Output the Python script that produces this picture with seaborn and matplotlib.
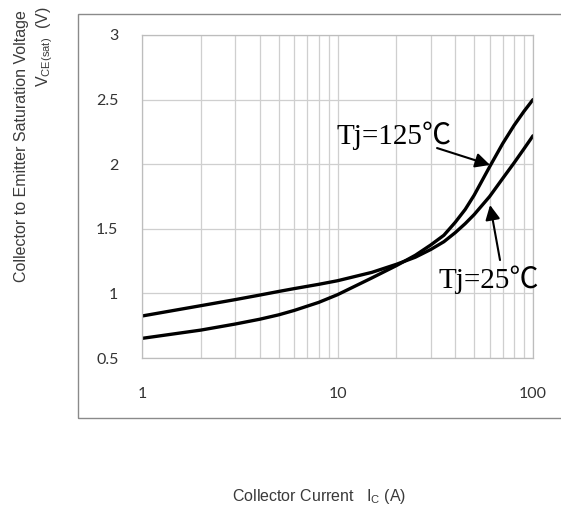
import numpy as np
import pandas as pd
import matplotlib
matplotlib.use("Agg")
import matplotlib.pyplot as plt
import matplotlib.ticker as mticker
from matplotlib.patches import Rectangle
import seaborn as sns

# ---- data ----
ic_25 = [1, 2, 3, 4, 5, 6, 8, 10, 15, 20, 25, 30, 35, 40, 45, 50, 60, 70, 80, 90, 100]
v_25 = [0.825, 0.905, 0.952, 0.987, 1.015, 1.037, 1.07, 1.098, 1.163, 1.225,
        1.28, 1.34, 1.40, 1.47, 1.54, 1.61, 1.75, 1.89, 2.01, 2.12, 2.22]
ic_125 = [1, 2, 3, 4, 5, 6, 8, 10, 15, 20, 25, 30, 35, 40, 45, 50, 60, 70, 80, 90, 100]
v_125 = [0.652, 0.716, 0.763, 0.80, 0.834, 0.868, 0.93, 0.99, 1.12, 1.215,
         1.295, 1.375, 1.45, 1.55, 1.65, 1.76, 1.98, 2.16, 2.30, 2.41, 2.50]
series_names = ["Tj=25℃", "Tj=125℃"]
y_ticks = [0.5, 1, 1.5, 2, 2.5, 3]
y_tick_labels = ["0.5", "1", "1.5", "2", "2.5", "3"]
x_ticks = [1, 10, 100]
x_tick_labels = ["1", "10", "100"]

df = pd.DataFrame({
    "Ic": ic_25 + ic_125,
    "V": v_25 + v_125,
    "Tj": [series_names[0]] * len(ic_25) + [series_names[1]] * len(ic_125),
})

sns.set_style("white")
plt.rcParams["font.family"] = ["Liberation Sans", "DejaVu Sans"]

W, H = 561, 519
fig = plt.figure(figsize=(W / 100, H / 100), dpi=100)

# outer gray frame (extends beyond right edge)
frame = Rectangle((78 / W, (H - 418) / H), 1.2, (418 - 14) / H,
                  transform=fig.transFigure, fill=False,
                  edgecolor="#8a8a8a", lw=1.0, zorder=0)
fig.patches.append(frame)

ax = fig.add_axes([142 / W, (H - 358) / H, (533 - 142) / W, (358 - 35) / H])
ax.set_facecolor("none")

sns.lineplot(data=df, x="Ic", y="V", hue="Tj", palette=["black", "black"],
             linewidth=2.4, legend=False, ax=ax, estimator=None, sort=True)

ax.set_xscale("log")
ax.set_xlim(1, 100)
ax.set_ylim(0.5, 3)
ax.set_xticks(x_ticks)
ax.set_xticklabels(x_tick_labels)
ax.xaxis.set_minor_locator(mticker.LogLocator(base=10, subs=np.arange(2, 10)))
ax.xaxis.set_minor_formatter(mticker.NullFormatter())
ax.set_yticks(y_ticks)
ax.set_yticklabels(y_tick_labels)

ax.grid(True, which="both", color="#cfcfcf", lw=0.9)
ax.set_axisbelow(True)
for s in ax.spines.values():
    s.set_color("#bdbdbd")
    s.set_linewidth(0.9)

ax.tick_params(axis="y", which="major", direction="out", length=6, width=0.9,
               color="#bdbdbd", pad=11, labelcolor="#333333")
ax.tick_params(axis="x", which="both", direction="out", length=5, width=0.9,
               color="#cfcfcf", pad=16, labelcolor="#333333")
for lab in ax.get_xticklabels() + ax.get_yticklabels():
    lab.set_fontfamily(["Lato", "DejaVu Sans"])
    lab.set_fontsize(11.5)
ax.set_xlabel("")
ax.set_ylabel("")

# axis titles
fig.text(22 / W, (H - 10) / H, "Collector to Emitter Saturation Voltage",
         rotation=90, ha="center", va="top", fontsize=11.5, color="#3a3a3a")
fig.text(45 / W, (H - 7) / H, r"V$_\mathregular{CE(sat)}$  (V)",
         rotation=90, ha="center", va="top", fontsize=11.5, color="#3a3a3a")
fig.text(319 / W, (H - 497) / H, r"Collector Current   I$_\mathregular{C}$ (A)",
         ha="center", va="center", fontsize=11.5, color="#3a3a3a")

# annotations
serif = ["Liberation Serif", "Noto Sans CJK JP", "DejaVu Serif"]
ax.text(19.5, 2.218, series_names[1], ha="center", va="center",
        fontsize=21, family=serif, color="black")
ax.annotate("", xy=(60.3, 1.994), xytext=(32.3, 2.125),
            arrowprops=dict(arrowstyle="-|>", mutation_scale=22, lw=1.5,
                            color="black", shrinkA=0, shrinkB=0))
ax.text(59.6, 1.104, series_names[0], ha="center", va="center",
        fontsize=21, family=serif, color="black")
ax.annotate("", xy=(60.3, 1.684), xytext=(67.8, 1.258),
            arrowprops=dict(arrowstyle="-|>", mutation_scale=22, lw=1.5,
                            color="black", shrinkA=0, shrinkB=0))

fig.savefig("out.png", dpi=100, facecolor="white")
